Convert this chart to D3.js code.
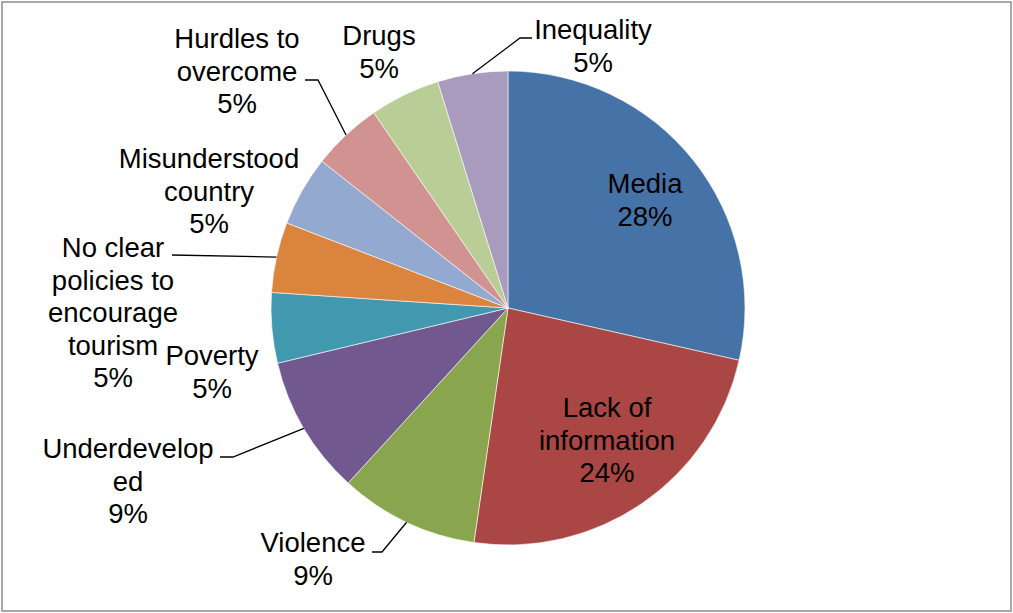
<!DOCTYPE html>
<html>
<head>
<meta charset="utf-8">
<script src="https://cdn.jsdelivr.net/npm/d3@7"></script>
<style>
  html, body { margin: 0; padding: 0; background: #fff; }
  svg { display: block; }
  text { font-family: "Liberation Sans", Arial, sans-serif; font-size: 27.5px; fill: #000; }
</style>
</head>
<body>
<svg id="chart" width="1013" height="613"></svg>
<script>
// ---- data ----
const categories = ["Media", "Lack of information", "Violence", "Underdeveloped", "Poverty",
  "No clear policies to encourage tourism", "Misunderstood country", "Hurdles to overcome", "Drugs", "Inequality"];
const values = [28.6, 23.8, 9.5, 9.5, 4.8, 4.8, 4.8, 4.8, 4.8, 4.8];
const percentLabels = ["28%", "24%", "9%", "9%", "5%", "5%", "5%", "5%", "5%", "5%"];
const labelLines = [
  ["Media"], ["Lack of", "information"], ["Violence"], ["Underdevelop", "ed"], ["Poverty"],
  ["No clear", "policies to", "encourage", "tourism"], ["Misunderstood", "country"],
  ["Hurdles to", "overcome"], ["Drugs"], ["Inequality"]
];
const colors = ["#4572A7", "#AA4643", "#89A54E", "#71588F", "#4198AF",
  "#DB843D", "#93A9CF", "#D19392", "#B9CD96", "#A99BBD"];

// ---- layout (label placement, as in the reference) ----
const cx = 508, cy = 308, radius = 237, lineH = 32.5;
const labelLayout = [
  { x: 645, y: 193 },
  { x: 607, y: 417 },
  { x: 313, y: 552, leader: [382, 552, 372, 552] },
  { x: 128, y: 458, leader: [233, 457, 220, 457] },
  { x: 212, y: 365 },
  { x: 113, y: 257, leader: [172, 255, 172, 255] },
  { x: 209, y: 168 },
  { x: 237, y: 48, leader: [318, 80, 305, 80] },
  { x: 379, y: 45 },
  { x: 593, y: 39, leader: [520, 38, 532, 38] }
];

const svg = d3.select("#chart");

// border
svg.append("rect")
  .attr("x", 2).attr("y", 2).attr("width", 1009).attr("height", 609)
  .attr("fill", "#fff").attr("stroke", "#8c8c8c").attr("stroke-width", 1.5);

const pie = d3.pie().sort(null).value(d => d)(values);
const arc = d3.arc().innerRadius(0).outerRadius(radius);

const g = svg.append("g").attr("transform", `translate(${cx},${cy})`);

g.selectAll("path.slice")
  .data(pie)
  .join("path")
  .attr("class", "slice")
  .attr("d", arc)
  .attr("fill", (d, i) => colors[i])
  .attr("stroke", "#fff")
  .attr("stroke-width", 0.6);

// leader lines
pie.forEach((d, i) => {
  const L = labelLayout[i].leader;
  if (!L) return;
  const mid = (d.startAngle + d.endAngle) / 2;
  const px = cx + radius * Math.sin(mid);
  const py = cy - radius * Math.cos(mid);
  svg.append("polyline")
    .attr("points", `${px},${py} ${L[0]},${L[1]} ${L[2]},${L[3]}`)
    .attr("fill", "none")
    .attr("stroke", "#000")
    .attr("stroke-width", 1.3);
});

// labels
labelLayout.forEach((p, i) => {
  const lines = labelLines[i].concat([percentLabels[i]]);
  const t = svg.append("text")
    .attr("x", p.x).attr("y", p.y)
    .attr("text-anchor", "middle");
  lines.forEach((ln, k) => {
    t.append("tspan")
      .attr("x", p.x)
      .attr("y", p.y + k * lineH)
      .text(ln);
  });
});
</script>
</body>
</html>
